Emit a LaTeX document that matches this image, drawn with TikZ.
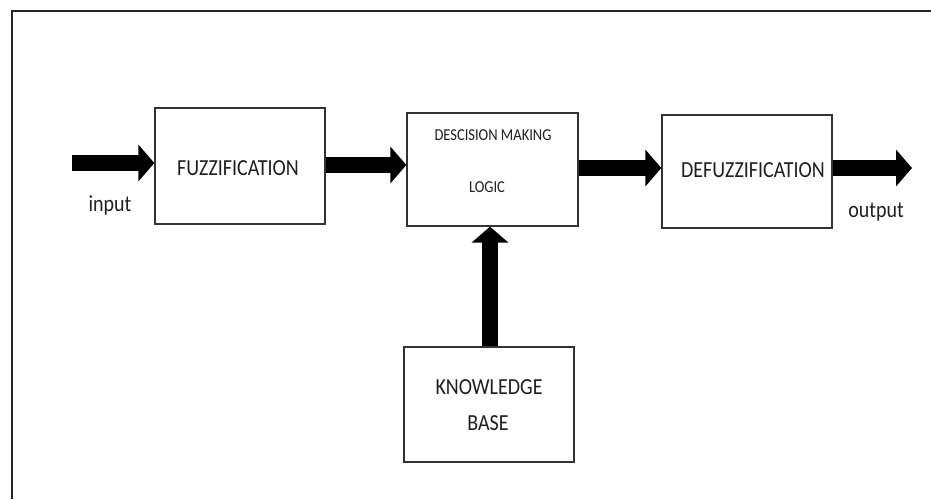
\documentclass[tikz,border=0pt]{standalone}
\usepackage{fontspec}
\setmainfont{Carlito}
\usetikzlibrary{arrows.meta}
\tikzset{
  blockbox/.style={draw=black!80, line width=1.3pt, fill=white, inner sep=0pt},
  fatarrow/.style={line width=16pt, -{Triangle[width=36pt,length=16pt]}, black},
  bigtxt/.style={text=black!88, font=\fontsize{20}{24}\selectfont},
  smalltxt/.style={text=black!88, font=\fontsize{14.5}{17}\selectfont},
}
\newcommand{\tallt}[1]{\scalebox{1}[1.15]{#1}}
\begin{document}
\begin{tikzpicture}[x=1pt,y=-1pt]
\useasboundingbox (0,0) rectangle (931,499);
% frame
\draw[line width=2pt, black!85] (12,499) -- (12,11) -- (931,11);
% boxes
\node[blockbox, minimum width=170pt, minimum height=116pt] (fuzz) at (240,166) {};
\node[blockbox, minimum width=171pt, minimum height=113pt] (dec) at (492.5,169.5) {};
\node[blockbox, minimum width=170pt, minimum height=113pt] (defuzz) at (747,171.5) {};
\node[blockbox, minimum width=170pt, minimum height=115pt] (kb) at (489,404.5) {};
% texts
\node[bigtxt] (tfuzz) at (238,168) {\tallt{FUZZIFICATION}};
\node[smalltxt] (tdec1) at (493,135) {\tallt{DESCISION MAKING}};
\node[smalltxt] (tdec2) at (487,187) {\tallt{LOGIC}};
\node[bigtxt] (tdefuzz) at (753,170) {\tallt{DEFUZZIFICATION}};
\node[bigtxt] (tkb1) at (489,387) {\tallt{KNOWLEDGE}};
\node[bigtxt] (tkb2) at (488,423) {\tallt{BASE}};
\node[bigtxt] (tin) at (110,205) {\tallt{input}};
\node[bigtxt] (tout) at (876,212) {\tallt{output}};
% arrow anchors
\coordinate (inp) at (72,163);
\coordinate (a2) at (0,165);
\coordinate (a3) at (0,168);
\coordinate (outp) at (912,168);
\coordinate (av) at (490,0);
% arrows
\draw[fatarrow] (inp) -- (inp -| fuzz.west);
\draw[fatarrow] (a2 -| fuzz.east) -- (a2 -| dec.west);
\draw[fatarrow] (a3 -| dec.east) -- (a3 -| defuzz.west);
\draw[fatarrow] (a3 -| defuzz.east) -- (outp);
\draw[fatarrow] (av |- kb.north) -- (av |- dec.south);
\end{tikzpicture}
\end{document}
